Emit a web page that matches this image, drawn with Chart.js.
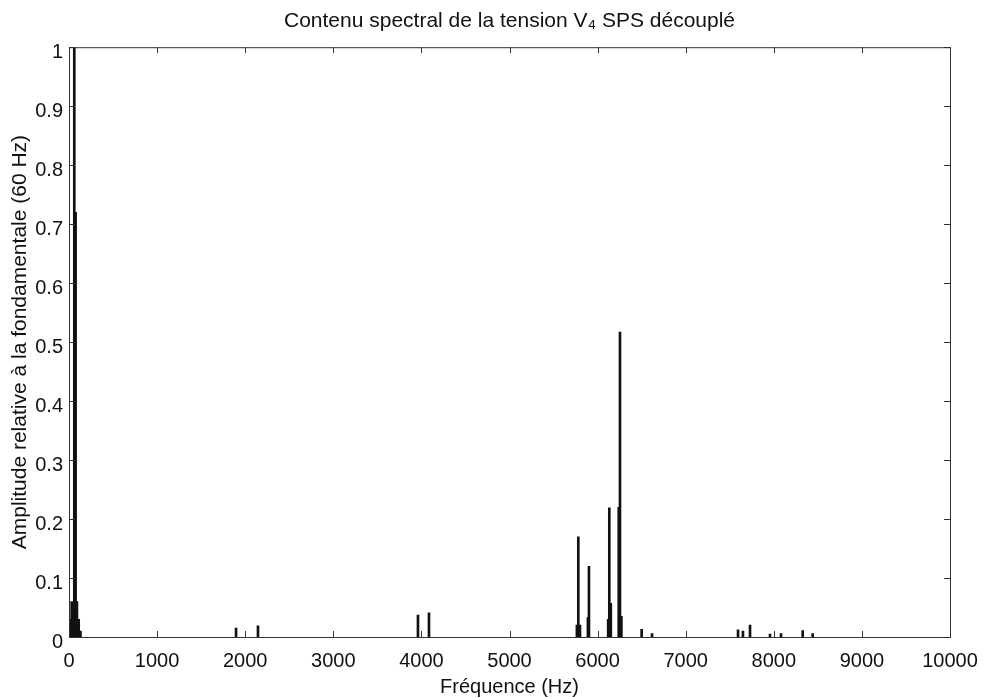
<!DOCTYPE html>
<html>
<head>
<meta charset="utf-8">
<script src="https://cdn.jsdelivr.net/npm/chart.js@4"></script>
<style>
  html, body { margin: 0; padding: 0; background: #fff; }
  #wrap { width: 985px; height: 698px; }
</style>
</head>
<body>
<div id="wrap"><canvas id="myChart"></canvas></div>
<script>
// spectrum lines (Hz) and their amplitude relative to the 60 Hz fundamental
var freqs = [10, 30, 45, 60, 75, 90, 110, 130,
             1896, 2145,
             3961, 4086,
             5765, 5781, 5800, 5890, 5902, 6120, 6133, 6150, 6240, 6254, 6270,
             6500, 6618, 7594, 7650, 7730, 7957, 8082, 8328, 8441];
var amps  = [0.03, 0.06, 0.05, 1.0, 0.72, 0.06, 0.03, 0.01,
             0.015, 0.019,
             0.037, 0.041,
             0.02, 0.17, 0.02, 0.033, 0.12, 0.03, 0.219, 0.057, 0.22, 0.517, 0.035,
             0.013, 0.006, 0.012, 0.01, 0.02, 0.005, 0.006, 0.011, 0.006];
var xTicks = [0, 1000, 2000, 3000, 4000, 5000, 6000, 7000, 8000, 9000, 10000];
var yTicks = [0, 0.1, 0.2, 0.3, 0.4, 0.5, 0.6, 0.7, 0.8, 0.9, 1];

var font = "'Liberation Sans', Arial, Helvetica, sans-serif";

// matlab style box with inward ticks on all four sides
var boxTicks = {
  id: 'boxTicks',
  afterLayout: function(chart) {
    // center the title over the plot area, not the whole canvas
    if (chart.titleBlock) {
      chart.titleBlock.left = chart.chartArea.left;
      chart.titleBlock.right = chart.chartArea.right;
    }
  },
  afterDraw: function(chart) {
    var c = chart.ctx, a = chart.chartArea;
    var xs = chart.scales.x, ys = chart.scales.y;
    var len = 6;
    c.save();
    c.strokeStyle = '#333';
    c.lineWidth = 1;
    c.strokeRect(a.left + 0.5, a.top + 0.5, a.right - a.left, a.bottom - a.top);
    c.beginPath();
    xTicks.forEach(function(v) {
      var px = Math.round(xs.getPixelForValue(v)) + 0.5;
      c.moveTo(px, a.bottom); c.lineTo(px, a.bottom - len);
      c.moveTo(px, a.top); c.lineTo(px, a.top + len);
    });
    yTicks.forEach(function(v) {
      var py = Math.round(ys.getPixelForValue(v)) + 0.5;
      c.moveTo(a.left, py); c.lineTo(a.left + len, py);
      c.moveTo(a.right, py); c.lineTo(a.right - len, py);
    });
    c.stroke();
    c.restore();
  }
};

var ctx = document.getElementById('myChart');
var myChart = new Chart(ctx, {
  type: 'bar',
  data: {
    datasets: [{
      data: freqs.map(function(f, i) { return { x: f, y: amps[i] }; }),
      backgroundColor: '#111',
      borderWidth: 0,
      barThickness: 2
    }]
  },
  options: {
    responsive: true,
    maintainAspectRatio: false,
    animation: false,
    layout: { padding: { left: 0, right: 35, top: 0, bottom: 0 } },
    plugins: {
      legend: { display: false },
      tooltip: { enabled: false },
      title: {
        display: true,
        text: 'Contenu spectral de la tension V\u2084 SPS découplé',
        color: '#111',
        font: { family: font, size: 21, weight: 'normal' },
        padding: { top: 9, bottom: 13 }
      }
    },
    scales: {
      x: {
        type: 'linear',
        offset: false,
        min: 0,
        max: 10000,
        afterBuildTicks: function(s) { s.ticks = xTicks.map(function(v) { return { value: v }; }); },
        afterFit: function(s) { s.height = 61; s.paddingLeft = 0; s.paddingRight = 0; },
        grid: { display: false, drawTicks: false, offset: false },
        border: { display: false },
        ticks: {
          color: '#111',
          padding: 12,
          maxRotation: 0,
          font: { family: font, size: 20 },
          callback: function(v) { return String(v); }
        },
        title: {
          display: true,
          text: 'Fréquence (Hz)',
          color: '#111',
          font: { family: font, size: 20 },
          padding: { top: 0, bottom: -1 }
        }
      },
      y: {
        min: 0,
        max: 1,
        afterBuildTicks: function(s) { s.ticks = yTicks.map(function(v) { return { value: v }; }); },
        afterFit: function(s) { s.width = 69; },
        grid: { display: false, drawTicks: false },
        border: { display: false },
        ticks: {
          color: '#111',
          padding: 6,
          labelOffset: 5,
          font: { family: font, size: 20 },
          callback: function(v) { return String(+v.toFixed(1)); }
        },
        title: {
          display: true,
          text: 'Amplitude relative à la fondamentale (60 Hz)',
          color: '#111',
          font: { family: font, size: 21 },
          padding: { top: 8, bottom: 0 }
        }
      }
    }
  },
  plugins: [boxTicks]
});
</script>
</body>
</html>
